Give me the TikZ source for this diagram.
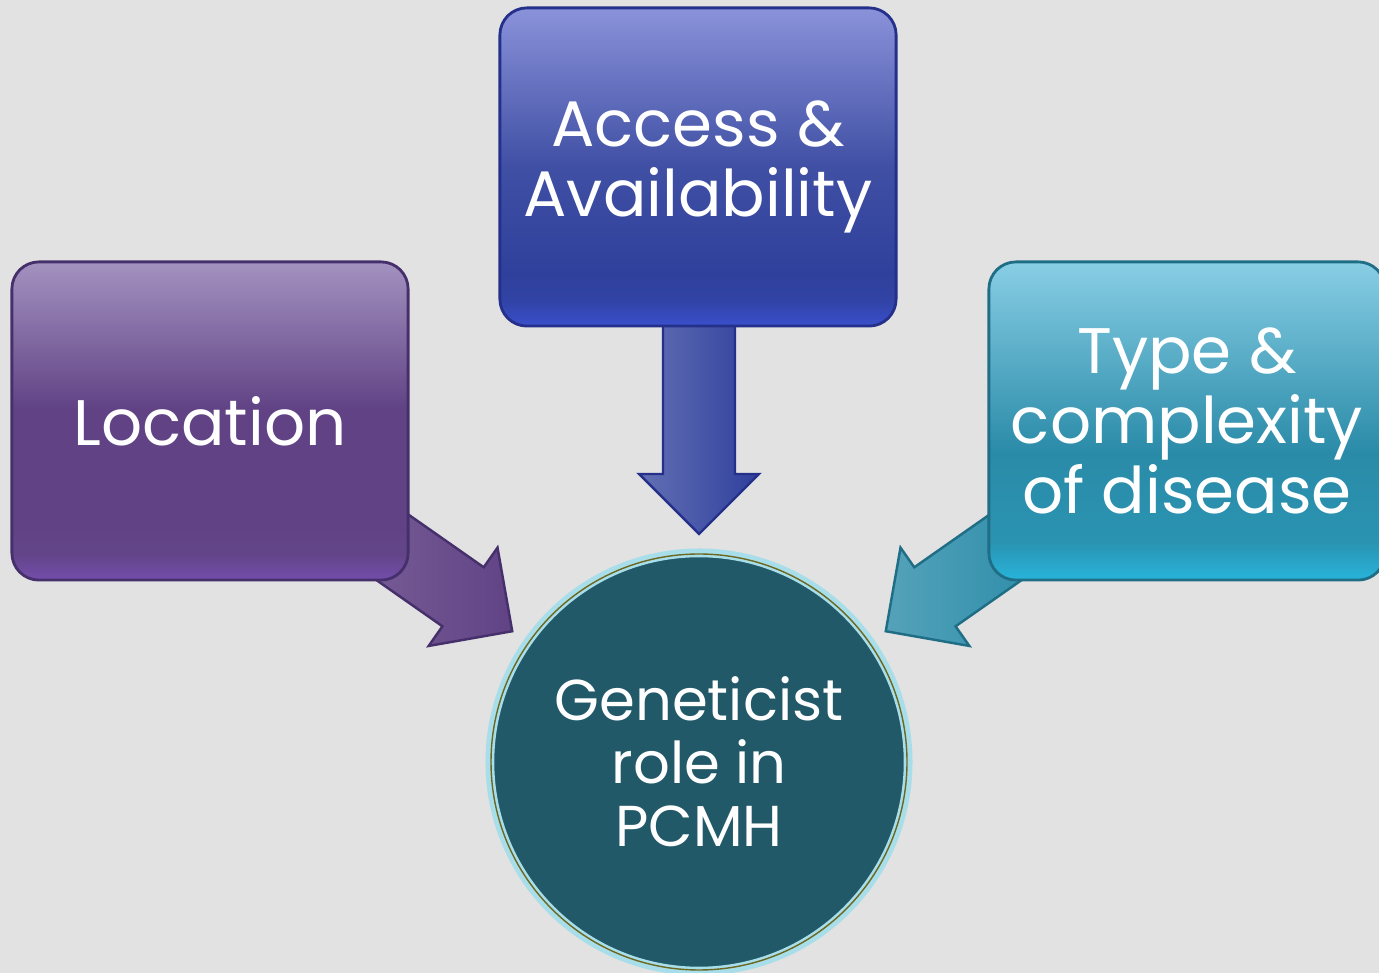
\documentclass[tikz,border=0pt]{standalone}
\usepackage{fontspec}
\setmainfont{Poppins}
\usetikzlibrary{calc}

\definecolor{bggray}{HTML}{E2E2E2}
\definecolor{locTop}{HTML}{A392C0}
\definecolor{locMid}{HTML}{614385}
\definecolor{locBot}{HTML}{744EAC}
\definecolor{locLine}{HTML}{46306C}
\definecolor{accTop}{HTML}{8A92DA}
\definecolor{accMid}{HTML}{2F409C}
\definecolor{accBot}{HTML}{3A4FCC}
\definecolor{accLine}{HTML}{24308A}
\definecolor{typTop}{HTML}{88CEE5}
\definecolor{typMid}{HTML}{2A8BA8}
\definecolor{typBot}{HTML}{28B4DA}
\definecolor{typLine}{HTML}{1F6E86}
\definecolor{genFill}{HTML}{225968}
\definecolor{genGlow}{HTML}{9ADDEB}

% box gradients, bottom to top (box spans 25bp..75bp)
\pgfdeclareverticalshading{locshade}{100bp}{color(0bp)=(locBot); color(25bp)=(locBot); color(29bp)=(locMid!90!locBot); color(33bp)=(locMid); color(52bp)=(locMid); color(75bp)=(locTop); color(100bp)=(locTop)}
\pgfdeclareverticalshading{accshade}{100bp}{color(0bp)=(accBot); color(25bp)=(accBot); color(29bp)=(accMid!80!accBot); color(33bp)=(accMid); color(50bp)=(accMid!92!white); color(75bp)=(accTop); color(100bp)=(accTop)}
\pgfdeclareverticalshading{typshade}{100bp}{color(0bp)=(typBot); color(25bp)=(typBot); color(31bp)=(typMid!80!typBot); color(45bp)=(typMid); color(75bp)=(typTop); color(100bp)=(typTop)}

% block arrow: angle from circle centre, tail length, style
\newcommand{\feedarrow}[3]{%
  \begin{scope}[shift={($(gen.center)+(#1:228)$)}, rotate=#1+180]
    \filldraw[#3] (0,0) -- (-60,60) -- (-60,36) -- (-#2,36) -- (-#2,-36) -- (-60,-36) -- (-60,-60) -- cycle;
  \end{scope}}

\begin{document}
\begin{tikzpicture}[x=0.01cm, y=0.01cm,
    box/.style={rounded corners=0.27cm, minimum width=3.96cm, minimum height=3.18cm, inner sep=0pt,
      text=white, align=center, font=\fontsize{18.3}{19.9}\selectfont, line width=0.8pt},
    arr/.style={line width=0.7pt, line join=miter}]

  % Background
  \fill[bggray] (0,0) rectangle (1379,973);
  \useasboundingbox (0,0) rectangle (1379,973);

  % Centre circle
  \node[circle, minimum size=4.18cm, inner sep=0pt, fill=genFill, draw=genGlow!80!bggray, line width=2.5pt,
    text=white, align=center, font=\fontsize{16.4}{17.9}\selectfont] (gen) at (699,211)
    {Geneticist\\role in\\PCMH};
  \draw[olive!70!black, line width=0.4pt] (gen.center) circle (208);

  % Arrows into the circle
  \feedarrow{145}{180}{arr, draw=locLine, left color=locMid!85!white, right color=locMid}
  \feedarrow{90}{220}{arr, draw=accLine, left color=accMid!75!white, right color=accMid}
  \feedarrow{35}{180}{arr, draw=typLine, left color=typMid!80!white, right color=typMid}

  % Boxes
  \node[box, draw=locLine, shading=locshade] (loc) at (210,552) {Location};
  \node[box, draw=accLine, shading=accshade] (acc) at (698,806) {Access \&\\Availability};
  \node[box, draw=typLine, shading=typshade] (typ) at (1187,552) {Type \&\\complexity\\of disease};

\end{tikzpicture}
\end{document}
